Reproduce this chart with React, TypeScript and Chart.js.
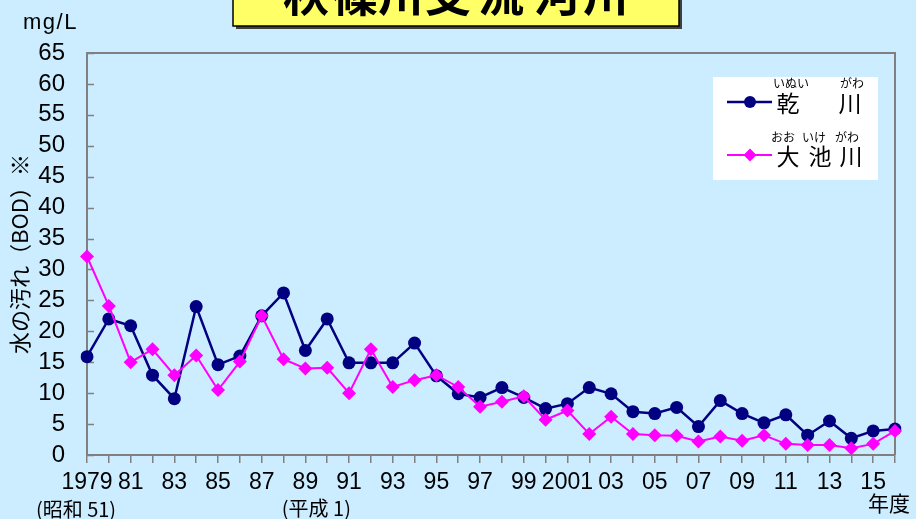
import { useEffect, useRef } from 'react';
import { Chart, registerables } from 'chart.js';

Chart.register(...registerables);

// ---- data ----
const years = [
  '1979', '1980', '1981', '1982', '1983', '1984', '1985', '1986', '1987', '1988',
  '1989', '1990', '1991', '1992', '1993', '1994', '1995', '1996', '1997', '1998',
  '1999', '2000', '2001', '2002', '2003', '2004', '2005', '2006', '2007', '2008',
  '2009', '2010', '2011', '2012', '2013', '2014', '2015', '2016',
];
const tickLabels = [
  '1979', '', '81', '', '83', '', '85', '', '87', '',
  '89', '', '91', '', '93', '', '95', '', '97', '',
  '99', '', '2001', '', '03', '', '05', '', '07', '',
  '09', '', '11', '', '13', '', '15', '',
];
const inuiGawa = [
  15.9, 22.0, 20.9, 12.9, 9.1, 24.0, 14.6, 16.0, 22.5, 26.2,
  16.9, 22.0, 14.9, 14.9, 14.9, 18.1, 12.8, 9.9, 9.3, 10.9,
  9.3, 7.5, 8.3, 10.9, 9.9, 7.0, 6.7, 7.7, 4.6, 8.8,
  6.7, 5.2, 6.5, 3.2, 5.5, 2.7, 3.9, 4.2,
];
const oikeGawa = [
  32.1, 24.1, 15.0, 17.1, 12.9, 16.1, 10.5, 15.1, 22.5, 15.5,
  14.0, 14.1, 10.0, 17.1, 11.0, 12.1, 12.9, 11.0, 7.8, 8.6,
  9.5, 5.7, 7.2, 3.4, 6.2, 3.4, 3.2, 3.1, 2.2, 3.0,
  2.3, 3.2, 1.8, 1.6, 1.6, 1.1, 1.8, 3.9,
];
const yMin = 0;
const yMax = 65;
const yStep = 5;
const titleChars = ['秋', '篠', '川', '支', '流', '河', '川'];
const yAxisTitle = '水の汚れ（BOD）※';
const unitLabel = 'mg/L';
const xAxisTitle = '年度';
const eraShowa = '(昭和 51)';
const eraHeisei = '(平成 1)';

// ---- styles ----
const BG = '#CCECFF';
const AXIS = '#808080';
const NAVY = '#000080';
const PINK = '#FF00FF';
const SANS = "'Liberation Sans', Arial, sans-serif";
const JP = "'Noto Sans CJK JP', 'Noto Sans', sans-serif";

const decorPlugin = {
  id: 'decor',
  beforeDraw(chart: any) {
    const { ctx, width, height } = chart;
    ctx.save();
    ctx.fillStyle = BG;
    ctx.fillRect(0, 0, width, height);
    ctx.restore();
  },
  beforeDatasetsDraw(chart: any) {
    const { ctx, chartArea: ca, scales } = chart;
    const ys = scales.y;
    ctx.save();
    ctx.strokeStyle = AXIS;
    ctx.lineWidth = 2;
    ctx.beginPath();
    ctx.moveTo(ca.left, ca.top);
    ctx.lineTo(ca.right, ca.top);
    ctx.lineTo(ca.right, ca.bottom);
    ctx.stroke();
    ctx.lineWidth = 1.5;
    ys.ticks.forEach((t: any) => {
      const py = Math.round(ys.getPixelForValue(t.value)) + 0.5;
      ctx.beginPath();
      ctx.moveTo(ca.left, py);
      ctx.lineTo(ca.left + 7, py);
      ctx.stroke();
    });
    ctx.restore();
  },
  afterDraw(chart: any) {
    const { ctx, scales } = chart;
    const xs = scales.x;
    ctx.save();

    // title box
    ctx.fillStyle = '#404040';
    ctx.fillRect(236, -5, 446, 34);
    ctx.fillStyle = '#FFFF66';
    ctx.fillRect(233, -5, 446, 31);
    ctx.strokeStyle = '#000';
    ctx.lineWidth = 1.5;
    ctx.strokeRect(233, -5, 446, 31);
    ctx.fillStyle = '#000';
    ctx.font = `bold 46px ${JP}`;
    ctx.textAlign = 'center';
    ctx.textBaseline = 'alphabetic';
    const centers = [306, 355, 401, 448, 501, 557, 606];
    titleChars.forEach((c, i) => ctx.fillText(c, centers[i], 11));

    // unit
    ctx.font = `22px ${SANS}`;
    ctx.textAlign = 'left';
    ctx.textBaseline = 'middle';
    (ctx as any).letterSpacing = '1.5px';
    ctx.fillText(unitLabel, 23, 23);
    (ctx as any).letterSpacing = '0px';

    // era labels
    ctx.font = `20px ${JP}`;
    ctx.textAlign = 'center';
    ctx.fillText(eraShowa, xs.getPixelForValue(0) - 11, 509);
    ctx.fillText(eraHeisei, xs.getPixelForValue(10) + 11, 508);

    // x title
    ctx.font = `21px ${JP}`;
    ctx.textAlign = 'left';
    ctx.fillText(xAxisTitle, 868, 503);

    // legend
    ctx.fillStyle = '#FFFFFF';
    ctx.fillRect(713, 77, 165, 103);
    ctx.strokeStyle = NAVY;
    ctx.lineWidth = 2.5;
    ctx.beginPath();
    ctx.moveTo(727, 102);
    ctx.lineTo(772, 102);
    ctx.stroke();
    ctx.fillStyle = NAVY;
    ctx.beginPath();
    ctx.arc(750, 102, 6, 0, Math.PI * 2);
    ctx.fill();
    ctx.strokeStyle = PINK;
    ctx.lineWidth = 2;
    ctx.beginPath();
    ctx.moveTo(727, 155);
    ctx.lineTo(772, 155);
    ctx.stroke();
    ctx.fillStyle = PINK;
    ctx.beginPath();
    ctx.moveTo(750, 148.5);
    ctx.lineTo(756.5, 155);
    ctx.lineTo(750, 161.5);
    ctx.lineTo(743.5, 155);
    ctx.closePath();
    ctx.fill();

    ctx.fillStyle = '#000';
    ctx.textAlign = 'center';
    ctx.textBaseline = 'middle';
    ctx.font = `23px ${JP}`;
    ctx.fillText('乾', 788, 103);
    ctx.fillText('川', 850, 103);
    ctx.fillText('大', 788, 156);
    ctx.fillText('池', 820, 156);
    ctx.fillText('川', 851, 156);
    ctx.font = `12px ${JP}`;
    ctx.fillText('いぬい', 791, 83);
    ctx.fillText('がわ', 852, 83);
    ctx.fillText('おお', 783, 137);
    ctx.fillText('いけ', 814, 137);
    ctx.fillText('がわ', 847, 137);

    ctx.restore();
  },
};

export default function App() {
  const canvasRef = useRef<HTMLCanvasElement | null>(null);

  useEffect(() => {
    document.body.style.margin = '0';
    const canvas = canvasRef.current;
    if (!canvas) return;
    const chart = new Chart(canvas, {
      type: 'line',
      data: {
        labels: years,
        datasets: [
          {
            label: '乾川',
            data: inuiGawa,
            borderColor: NAVY,
            backgroundColor: NAVY,
            borderWidth: 2.5,
            pointStyle: 'circle',
            pointRadius: 6.5,
            pointBorderWidth: 0,
            tension: 0,
            order: 1,
          },
          {
            label: '大池川',
            data: oikeGawa,
            borderColor: PINK,
            backgroundColor: PINK,
            borderWidth: 2,
            pointStyle: 'rectRot',
            pointRadius: 7,
            pointBorderWidth: 0,
            tension: 0,
            order: 0,
          },
        ],
      },
      options: {
        animation: false,
        responsive: true,
        maintainAspectRatio: false,
        layout: { padding: { top: 53, right: 21, left: 0, bottom: 0 } },
        plugins: {
          legend: { display: false },
          tooltip: { enabled: false },
          title: { display: false },
        },
        scales: {
          x: {
            type: 'category',
            offset: false,
            afterFit: (scale: any) => {
              scale.height = 64;
            },
            grid: {
              display: true,
              drawOnChartArea: false,
              drawTicks: true,
              tickLength: 8,
              color: AXIS,
              lineWidth: 1.5,
            },
            border: { display: true, color: AXIS, width: 2 },
            ticks: {
              autoSkip: false,
              maxRotation: 0,
              minRotation: 0,
              padding: 6,
              color: '#000',
              font: { family: SANS, size: 23 },
              callback: (_v: any, i: number) => tickLabels[i],
            },
          },
          y: {
            min: yMin,
            max: yMax,
            afterFit: (scale: any) => {
              scale.width = 87;
            },
            grid: { display: false, drawTicks: false },
            border: { display: true, color: AXIS, width: 2 },
            ticks: {
              stepSize: yStep,
              autoSkip: false,
              padding: 22,
              color: '#000',
              font: { family: SANS, size: 24 },
            },
            title: {
              display: true,
              text: yAxisTitle,
              color: '#000',
              font: { family: JP, size: 22 },
              padding: { top: 6, bottom: 0 },
            },
          },
        },
      },
      plugins: [decorPlugin],
    });
    return () => chart.destroy();
  }, []);

  return (
    <div style={{ position: 'absolute', left: 0, top: 0, width: 916, height: 519, background: BG }}>
      <canvas ref={canvasRef} />
    </div>
  );
}
